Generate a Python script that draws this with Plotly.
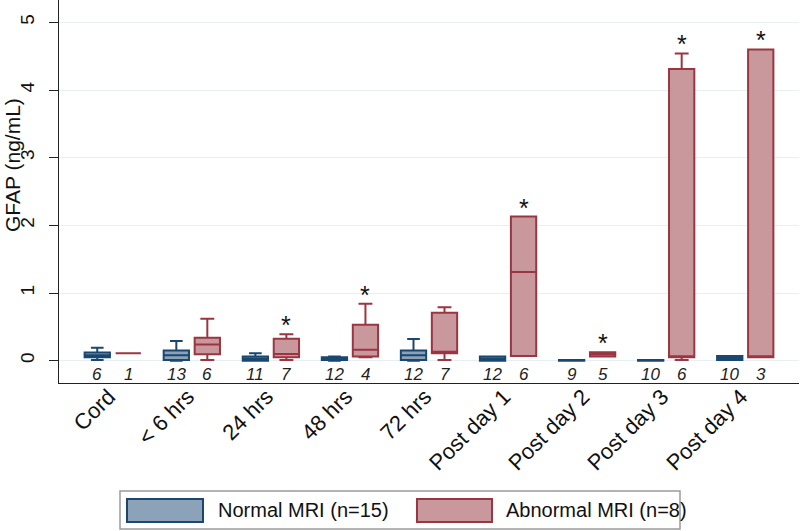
import plotly.graph_objects as go

categories = ["Cord", "< 6 hrs", "24 hrs", "48 hrs", "72 hrs",
              "Post day 1", "Post day 2", "Post day 3", "Post day 4"]

normal_n = [6, 13, 11, 12, 12, 12, 9, 10, 10]
abnormal_n = [1, 6, 7, 4, 7, 6, 5, 6, 3]

normal_lower = [0.01, 0.00, 0.00, 0.00, 0.00, 0.00, 0.00, 0.00, 0.01]
normal_q1 = [0.05, 0.01, 0.00, 0.01, 0.01, 0.00, 0.00, 0.00, 0.01]
normal_med = [0.08, 0.08, 0.03, 0.03, 0.08, 0.03, 0.01, 0.01, 0.04]
normal_q3 = [0.12, 0.15, 0.06, 0.05, 0.15, 0.06, 0.01, 0.01, 0.07]
normal_upper = [0.19, 0.29, 0.11, 0.06, 0.32, 0.06, 0.01, 0.01, 0.07]

abnormal_lower = [0.11, 0.01, 0.01, 0.05, 0.01, 0.07, 0.06, 0.01, 0.05]
abnormal_q1 = [0.11, 0.095, 0.05, 0.06, 0.11, 0.07, 0.06, 0.05, 0.05]
abnormal_med = [0.11, 0.24, 0.10, 0.16, 0.13, 1.31, 0.095, 0.06, 0.06]
abnormal_q3 = [0.11, 0.34, 0.325, 0.53, 0.71, 2.13, 0.124, 4.31, 4.60]
abnormal_upper = [0.11, 0.62, 0.39, 0.84, 0.79, 2.13, 0.124, 4.54, 4.60]

significant = [False, False, True, True, False, True, True, True, True]

y_ticks = [0, 1, 2, 3, 4, 5]
y_title = "GFAP (ng/mL)"

# styling
FONT = "Liberation Sans, Arial, sans-serif"
BLUE_LINE = "#1A476F"
BLUE_FILL = "#8CA2B9"
RED_LINE = "#9A3641"
RED_FILL = "#C8989C"
OFFSET = 0.196
BOX_W = 0.32
COUNT_Y = -0.2
Y_RANGE = [-0.33, 5.33]

idx = list(range(len(categories)))
x_normal = [i - OFFSET for i in idx]
x_abnormal = [i + OFFSET for i in idx]

fig = go.Figure()
fig.add_trace(go.Box(
    x=x_normal, q1=normal_q1, median=normal_med, q3=normal_q3,
    lowerfence=normal_lower, upperfence=normal_upper,
    width=BOX_W, whiskerwidth=0.5,
    fillcolor=BLUE_FILL, line=dict(color=BLUE_LINE, width=2),
    name="Normal MRI (n=15)", showlegend=False, hoverinfo="skip"))
fig.add_trace(go.Box(
    x=x_abnormal, q1=abnormal_q1, median=abnormal_med, q3=abnormal_q3,
    lowerfence=abnormal_lower, upperfence=abnormal_upper,
    width=BOX_W, whiskerwidth=0.55,
    fillcolor=RED_FILL, line=dict(color=RED_LINE, width=2),
    name="Abnormal MRI (n=8)", showlegend=False, hoverinfo="skip"))
# empty trace so the overlay axis (visible tick marks) is drawn
fig.add_trace(go.Scatter(x=[], y=[], yaxis="y2", showlegend=False, hoverinfo="skip"))

annotations = []
for xn, xa, nn, na in zip(x_normal, x_abnormal, normal_n, abnormal_n):
    for xx, nval in ((xn, nn), (xa, na)):
        annotations.append(dict(x=xx, y=COUNT_Y, xref="x", yref="y",
                                text=f"<i>{nval}</i>", showarrow=False,
                                font=dict(family=FONT, size=17, color="#222222")))
for xa, up, sig in zip(x_abnormal, abnormal_upper, significant):
    if sig:
        annotations.append(dict(x=xa, y=up, xref="x", yref="y", text="*",
                                showarrow=False, yanchor="bottom", yshift=-7,
                                font=dict(family=FONT, size=25, color="#111111")))

# y-axis title placed as rotated text
annotations.append(dict(x=0, y=1, xref="paper", yref="paper", xanchor="center", yanchor="middle",
                        xshift=-47, yshift=-165, textangle=-90, text=y_title, showarrow=False,
                        font=dict(family=FONT, size=21, color="#111111")))

# legend (drawn as shapes + text, anchored to the plot's bottom-left corner)
shapes = [
    dict(type="rect", xref="paper", yref="paper", xsizemode="pixel", ysizemode="pixel",
         xanchor=0, yanchor=0, x0=61, x1=621, y0=-146, y1=-108,
         line=dict(color="#9A9A9A", width=1.5), fillcolor="white"),
    dict(type="rect", xref="paper", yref="paper", xsizemode="pixel", ysizemode="pixel",
         xanchor=0, yanchor=0, x0=68, x1=144, y0=-139, y1=-116,
         line=dict(color=BLUE_LINE, width=2), fillcolor=BLUE_FILL),
    dict(type="rect", xref="paper", yref="paper", xsizemode="pixel", ysizemode="pixel",
         xanchor=0, yanchor=0, x0=358, x1=433, y0=-139, y1=-116,
         line=dict(color=RED_LINE, width=2), fillcolor=RED_FILL),
]
annotations.append(dict(x=0, y=0, xref="paper", yref="paper", xanchor="left", yanchor="middle",
                        xshift=157, yshift=-127, text="Normal MRI (n=15)", showarrow=False,
                        font=dict(family=FONT, size=20, color="#111111")))
annotations.append(dict(x=0, y=0, xref="paper", yref="paper", xanchor="left", yanchor="middle",
                        xshift=445, yshift=-127, text="Abnormal MRI (n=8)", showarrow=False,
                        font=dict(family=FONT, size=20, color="#111111")))

fig.update_layout(
    width=800, height=531,
    margin=dict(l=59, r=1, t=0, b=148),
    paper_bgcolor="white", plot_bgcolor="white",
    boxmode="overlay",
    font=dict(family=FONT, color="#111111"),
    annotations=annotations, shapes=shapes,
    xaxis=dict(range=[-0.68, 8.68], tickvals=idx, ticktext=categories,
               tickangle=-45, tickfont=dict(size=22, family=FONT), automargin=False,
               ticklabelstandoff=-9, ticklabelshift=-4,
               showgrid=False, zeroline=False, showline=True, linecolor="#222222",
               linewidth=1.2, ticks="", fixedrange=True),
    yaxis=dict(range=Y_RANGE, tickvals=y_ticks, tickangle=-90, automargin=False,
               tickfont=dict(size=19, family=FONT),
               showgrid=True, gridcolor="#E6F0F2", gridwidth=1.2, zeroline=False,
               showline=True, linecolor="#222222", linewidth=1.2,
               ticks="outside", ticklen=16, tickcolor="rgba(0,0,0,0)"),
    yaxis2=dict(range=Y_RANGE, overlaying="y", side="left", tickvals=y_ticks,
                showticklabels=False, automargin=False, showgrid=False, zeroline=False,
                showline=False, ticks="outside", ticklen=9, tickwidth=1.2,
                tickcolor="#222222"),
)

fig.write_html("out.html", config={"displayModeBar": False},
               post_script="document.body.style.margin='0';document.body.style.overflow='hidden';")
